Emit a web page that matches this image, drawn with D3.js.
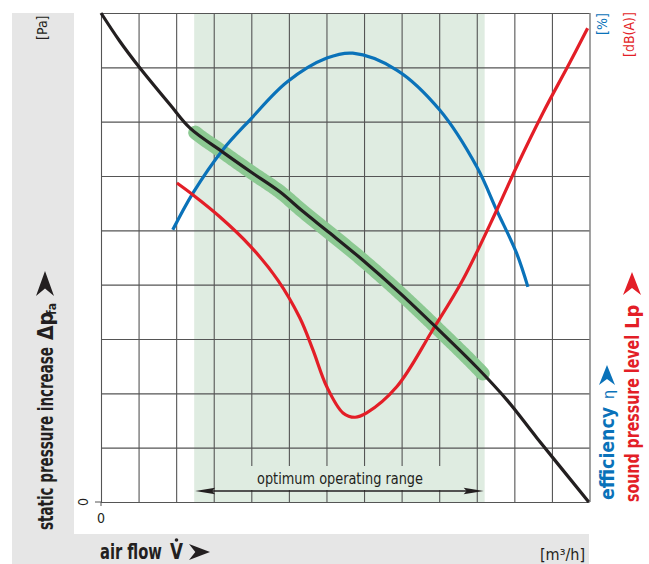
<!DOCTYPE html>
<html>
<head>
<meta charset="utf-8">
<script src="https://cdn.jsdelivr.net/npm/d3@7"></script>
<style>
  body { margin: 0; background: #fff; }
  svg { display: block; }
  .cond { font-family: "Liberation Sans Narrow", "Arial Narrow", "DejaVu Sans Condensed", sans-serif; }
</style>
</head>
<body>
<svg id="chart" width="649" height="564"></svg>
<script>
// Grid divisions (unlabelled relative units)
const xTicks = d3.range(0, 14);
const yTicks = d3.range(0, 10);

// Static pressure curve: [air flow, pressure]
const pressure = [
  [0, 9.0], [0.5, 8.48], [1.01, 8.01], [1.84, 7.31], [2.37, 6.88], [3.24, 6.44],
  [4.02, 6.06], [4.76, 5.71], [5.37, 5.35], [6.09, 4.95], [6.97, 4.45],
  [7.95, 3.85], [8.94, 3.20], [10.0, 2.48], [10.8, 1.88], [11.6, 1.18], [12.98, 0]
];

// Efficiency curve: [air flow, efficiency]
const efficiency = [
  [1.91, 5.01], [2.45, 5.69], [3.24, 6.48], [3.96, 7.03], [4.95, 7.73],
  [6.01, 8.17], [6.70, 8.26], [7.87, 7.95], [9.02, 7.21], [10.0, 6.17],
  [10.53, 5.37], [11.06, 4.58], [11.36, 3.96]
];

// Sound pressure level curve: [air flow, level]
const sound = [
  [2.02, 5.87], [2.45, 5.65], [3.16, 5.25], [3.96, 4.72], [4.71, 4.08],
  [5.29, 3.39], [5.64, 2.80], [6.01, 2.12], [6.44, 1.64], [6.76, 1.56],
  [7.07, 1.64], [7.87, 2.12], [8.83, 3.17], [9.63, 4.09], [10.53, 5.37],
  [11.06, 6.17], [11.76, 7.16], [12.47, 8.08], [12.95, 8.72]
];

// Optimum operating range along the air-flow axis
const optimumRange = [2.48, 10.21];

const svg = d3.select("#chart");
const M = { left: 101, top: 13, right: 589.5, bottom: 502 };

const x = d3.scaleLinear().domain([0, 13]).range([M.left, M.right]);
const yP = d3.scaleLinear().domain([0, 9]).range([M.bottom, M.top]);
const yE = d3.scaleLinear().domain([0, 9]).range([M.bottom, M.top]);
const yL = d3.scaleLinear().domain([0, 9]).range([M.bottom, M.top]);

// Grey L-shaped frame
svg.append("rect").attr("x", 12).attr("y", 13).attr("width", 62).attr("height", 551).attr("fill", "#e6e6e6");
svg.append("rect").attr("x", 12).attr("y", 534).attr("width", 577).attr("height", 30).attr("fill", "#e6e6e6");

// Optimum range band
svg.append("rect")
  .attr("x", x(optimumRange[0])).attr("y", M.top)
  .attr("width", x(optimumRange[1]) - x(optimumRange[0]))
  .attr("height", M.bottom - M.top)
  .attr("fill", "#dfece1");

// Grid from axes
const gridX = svg.append("g").attr("transform", `translate(0,${M.bottom})`)
  .call(d3.axisBottom(x).tickValues(xTicks).tickSize(-(M.bottom - M.top)).tickFormat(""));
const gridY = svg.append("g").attr("transform", `translate(${M.left},0)`)
  .call(d3.axisLeft(yP).tickValues(yTicks).tickSize(-(M.right - M.left)).tickFormat(""));
[gridX, gridY].forEach(g => {
  g.select(".domain").remove();
  g.selectAll(".tick line").attr("stroke", "#555").attr("stroke-width", 1.1);
});

// Small zero ticks outside the frame
svg.append("line").attr("x1", M.left - 6).attr("x2", M.left).attr("y1", yP(0)).attr("y2", yP(0)).attr("stroke", "#555");
svg.append("line").attr("x1", M.left).attr("x2", M.left).attr("y1", yP(0)).attr("y2", yP(0) + 4).attr("stroke", "#555");

// Label box for the optimum range
svg.append("rect").attr("x", 222).attr("y", 466).attr("width", 243).attr("height", 24).attr("fill", "#dfece1");
svg.append("text").attr("class", "cond")
  .attr("x", 340).attr("y", 484).attr("text-anchor", "middle")
  .attr("font-size", 16).attr("fill", "#231f20")
  .attr("textLength", 166).attr("lengthAdjust", "spacingAndGlyphs")
  .text("optimum operating range");

// Double-headed arrow
const ay = 491;
const ax0 = x(optimumRange[0]) + 1, ax1 = x(optimumRange[1]) - 1;
svg.append("line").attr("x1", ax0 + 10).attr("x2", ax1 - 10).attr("y1", ay).attr("y2", ay)
  .attr("stroke", "#231f20").attr("stroke-width", 1.6);
svg.append("path").attr("d", `M${ax0},${ay} L${ax0 + 20},${ay - 3.2} L${ax0 + 17},${ay} L${ax0 + 20},${ay + 3.2} Z`).attr("fill", "#231f20");
svg.append("path").attr("d", `M${ax1},${ay} L${ax1 - 20},${ay - 3.2} L${ax1 - 17},${ay} L${ax1 - 20},${ay + 3.2} Z`).attr("fill", "#231f20");

// Curves
const curve = d3.curveCatmullRom.alpha(0.5);
const lineP = d3.line().x(d => x(d[0])).y(d => yP(d[1])).curve(curve);
const lineE = d3.line().x(d => x(d[0])).y(d => yE(d[1])).curve(curve);
const lineL = d3.line().x(d => x(d[0])).y(d => yL(d[1])).curve(curve);

// Highlighted part of the pressure curve inside the optimum range
const pPath = svg.append("path").attr("d", lineP(pressure)).attr("fill", "none").attr("stroke", "none");
const node = pPath.node();
const total = node.getTotalLength();
function lengthAtX(px) {
  let lo = 0, hi = total;
  for (let i = 0; i < 40; i++) {
    const mid = (lo + hi) / 2;
    if (node.getPointAtLength(mid).x < px) lo = mid; else hi = mid;
  }
  return lo;
}
const s0 = lengthAtX(x(optimumRange[0]) + 1), s1 = lengthAtX(x(optimumRange[1]) - 1);
const hl = [];
for (let s = s0; s <= s1; s += 2) { const p = node.getPointAtLength(s); hl.push([p.x, p.y]); }
svg.append("path").attr("d", d3.line()(hl))
  .attr("fill", "none").attr("stroke", "#8cc992").attr("stroke-width", 14)
  .attr("stroke-linecap", "round").attr("stroke-linejoin", "round");

svg.append("path").attr("d", lineE(efficiency)).attr("fill", "none").attr("stroke", "#0a72b9").attr("stroke-width", 3.2);
svg.append("path").attr("d", lineL(sound)).attr("fill", "none").attr("stroke", "#e31e27").attr("stroke-width", 3.2);
svg.append("path").attr("d", lineP(pressure)).attr("fill", "none").attr("stroke", "#231f20").attr("stroke-width", 3.2);

// Arrowhead helper (pointing in +x of local coordinates)
function arrowHead(g, x0, yMid, len, half) {
  g.append("path")
    .attr("d", `M${x0},${yMid - half} L${x0 + len},${yMid} L${x0},${yMid + half} L${x0 + len * 0.3},${yMid} Z`);
}

// Text squeezed horizontally to a target width (condensed look)
function fitText(parent, str, px, py, size, width, bold) {
  const g = parent.append("g");
  const t = g.append("text").attr("class", "cond").attr("font-size", size)
    .attr("font-weight", bold ? "bold" : "normal").text(str);
  const natural = t.node().getComputedTextLength();
  g.attr("transform", `translate(${px},${py}) scale(${width / natural},1)`);
  return g;
}

// Left axis title (rotated)
const lt = svg.append("g").attr("transform", "translate(53,530) rotate(-90)").attr("fill", "#231f20");
lt.append("text").attr("class", "cond").attr("font-size", 21).attr("font-weight", "bold")
  .attr("x", 0).attr("y", 0).attr("textLength", 183).attr("lengthAdjust", "spacingAndGlyphs")
  .text("static pressure increase");
lt.append("text").attr("class", "cond").attr("font-size", 21).attr("font-weight", "bold")
  .attr("x", 190).attr("y", 0).text("Δp");
lt.append("text").attr("class", "cond").attr("font-size", 12).attr("font-weight", "bold")
  .attr("x", 215).attr("y", 3).text("fa");
arrowHead(lt, 234, -8, 25, 9);

svg.append("text").attr("class", "cond").attr("font-size", 14)
  .attr("transform", "translate(47,40) rotate(-90)").attr("fill", "#231f20").text("[Pa]");
svg.append("text").attr("class", "cond").attr("font-size", 14)
  .attr("transform", "translate(88,502) rotate(-90)").attr("text-anchor", "middle").attr("fill", "#231f20").text("0");
svg.append("text").attr("class", "cond").attr("font-size", 14)
  .attr("x", 101).attr("y", 523).attr("text-anchor", "middle").attr("fill", "#231f20").text("0");

// Bottom axis title: "air flow V" with a dot above the V (volume flow)
const bt = svg.append("g").attr("fill", "#231f20");
fitText(bt, "air flow", 100, 559, 21, 62, true);
fitText(bt, "V", 170, 559, 21, 13, true);
bt.append("circle").attr("cx", 176.5).attr("cy", 540).attr("r", 1.8);
arrowHead(bt, 189, 552, 21, 8);
svg.append("text").attr("class", "cond").attr("font-size", 16)
  .attr("x", 585).attr("y", 560).attr("text-anchor", "end").attr("fill", "#231f20").text("[m³/h]");

// Right axis titles
svg.append("text").attr("class", "cond").attr("font-size", 14).attr("fill", "#0a72b9")
  .attr("transform", "translate(607,35) rotate(-90)").text("[%]");
svg.append("text").attr("class", "cond").attr("font-size", 14).attr("fill", "#e31e27")
  .attr("transform", "translate(634,57) rotate(-90)").text("[dB(A)]");

const et = svg.append("g").attr("transform", "translate(614,500) rotate(-90)").attr("fill", "#0a72b9");
et.append("text").attr("class", "cond").attr("font-size", 20).attr("font-weight", "bold")
  .attr("textLength", 93).attr("lengthAdjust", "spacingAndGlyphs").text("efficiency");
et.append("text").attr("class", "cond").attr("font-size", 16).attr("x", 101).attr("y", 0).text("η");
arrowHead(et, 115, -7, 20, 8);

const st = svg.append("g").attr("transform", "translate(639,502) rotate(-90)").attr("fill", "#e31e27");
st.append("text").attr("class", "cond").attr("font-size", 20).attr("font-weight", "bold")
  .attr("textLength", 167).attr("lengthAdjust", "spacingAndGlyphs").text("sound pressure level");
st.append("text").attr("class", "cond").attr("font-size", 20).attr("font-weight", "bold")
  .attr("x", 173).attr("y", 0).text("Lp");
arrowHead(st, 207, -7, 23, 9);
</script>
</body>
</html>
